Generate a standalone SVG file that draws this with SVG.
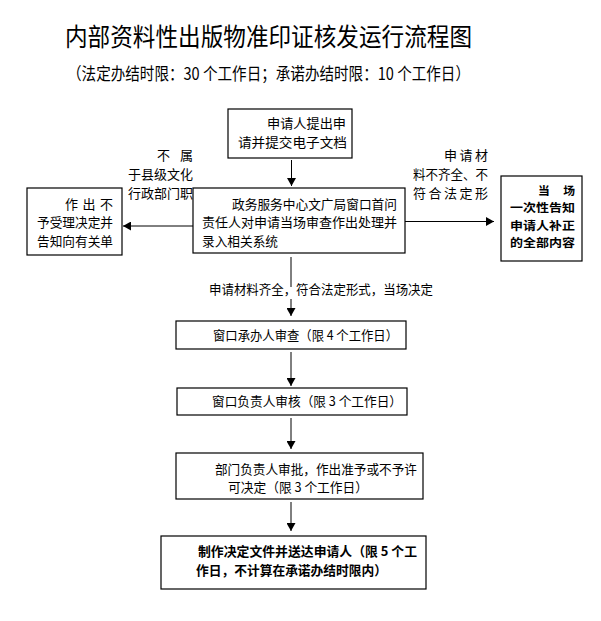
<svg xmlns="http://www.w3.org/2000/svg" width="601" height="621" viewBox="0 0 601 621">
<style>
text{font-family:"Noto Sans CJK SC","Liberation Sans",sans-serif;fill:#000;}
.t{font-size:13px;}
.b{font-size:13px;font-weight:bold;}
.bs{font-size:11.8px;font-weight:bold;}
.box{fill:#fff;stroke:#000;stroke-width:1.2;}
.ln{fill:none;stroke:#000;stroke-width:1;}
</style>
<defs>
<marker id="ah" markerUnits="userSpaceOnUse" markerWidth="9" markerHeight="9" refX="8" refY="4.5" orient="auto">
<path d="M0,0 L8,4.5 L0,9 Z" fill="#000"/>
</marker>
</defs>
<rect width="601" height="621" fill="#fff"/>
<g id="title">
<text x="65" y="46" font-size="25" textLength="407" lengthAdjust="spacingAndGlyphs">内部资料性出版物准印证核发运行流程图</text>
<text x="67" y="80" font-size="17" textLength="403" lengthAdjust="spacingAndGlyphs">（法定办结时限：30 个工作日；承诺办结时限：10 个工作日）</text>
</g>
<g id="connectors">
<line class="ln" x1="291.5" y1="160" x2="291.5" y2="186" marker-end="url(#ah)"/>
<line class="ln" x1="193" y1="226" x2="123" y2="226" marker-end="url(#ah)"/>
<line class="ln" x1="405" y1="221.5" x2="494" y2="221.5" marker-end="url(#ah)"/>
<line class="ln" x1="291" y1="257" x2="291" y2="287"/>
<line class="ln" x1="291" y1="299" x2="291" y2="316" marker-end="url(#ah)"/>
<line class="ln" x1="291" y1="352" x2="291" y2="386" marker-end="url(#ah)"/>
<line class="ln" x1="291" y1="418" x2="291" y2="449" marker-end="url(#ah)"/>
<line class="ln" x1="291" y1="502" x2="291" y2="531" marker-end="url(#ah)"/>
<g id="label-left">
<text class="t" x="157" y="160">不</text>
<text class="t" x="180" y="160">属</text>
<text class="t" x="128" y="179" textLength="65" lengthAdjust="spacingAndGlyphs">于县级文化</text>
<text class="t" x="128" y="198" textLength="65" lengthAdjust="spacingAndGlyphs">行政部门职</text>
</g>
<g id="label-right">
<text class="t" x="444" y="160" textLength="44" lengthAdjust="spacing">申请材</text>
<text class="t" x="413" y="179" textLength="75" lengthAdjust="spacingAndGlyphs">料不齐全、不</text>
<text class="t" x="413" y="198" textLength="75" lengthAdjust="spacing">符合法定形</text>
</g>
<g id="label-down">
<text class="t" x="209" y="294" textLength="224" lengthAdjust="spacingAndGlyphs">申请材料齐全，符合法定形式，当场决定</text>
</g>
</g>
<g id="n-apply">
<rect class="box" x="228" y="109" width="124" height="49"/>
<text class="t" x="267" y="128" textLength="79" lengthAdjust="spacingAndGlyphs">申请人提出申</text>
<text class="t" x="238" y="147" textLength="109" lengthAdjust="spacingAndGlyphs">请并提交电子文档</text>
</g>
<g id="n-window">
<rect class="box" x="193" y="188" width="212" height="65"/>
<text class="t" x="232" y="209" textLength="165" lengthAdjust="spacingAndGlyphs">政务服务中心文广局窗口首问</text>
<text class="t" x="202" y="227" textLength="195" lengthAdjust="spacingAndGlyphs">责任人对申请当场审查作出处理并</text>
<text class="t" x="202" y="246" textLength="76" lengthAdjust="spacingAndGlyphs">录入相关系统</text>
</g>
<g id="n-reject">
<rect class="box" x="27" y="188" width="95" height="67"/>
<text class="t" x="65" y="209" textLength="48" lengthAdjust="spacing">作出不</text>
<text class="t" x="37" y="227" textLength="76" lengthAdjust="spacingAndGlyphs">予受理决定并</text>
<text class="t" x="37" y="246" textLength="76" lengthAdjust="spacingAndGlyphs">告知向有关单</text>
</g>
<g id="n-notify">
<rect class="box" x="501" y="176" width="81" height="85"/>
<text class="bs" x="538" y="195" textLength="37" lengthAdjust="spacing">当场</text>
<text class="bs" x="510" y="212.3" textLength="65" lengthAdjust="spacingAndGlyphs">一次性告知</text>
<text class="bs" x="510" y="229.6" textLength="65" lengthAdjust="spacingAndGlyphs">申请人补正</text>
<text class="bs" x="510" y="246.9" textLength="65" lengthAdjust="spacingAndGlyphs">的全部内容</text>
</g>
<g id="n-review">
<rect class="box" x="176" y="321" width="230" height="28"/>
<text class="t" x="213" y="340" textLength="185" lengthAdjust="spacingAndGlyphs">窗口承办人审查（限 4 个工作日）</text>
</g>
<g id="n-check">
<rect class="box" x="177" y="388" width="230" height="27"/>
<text class="t" x="212" y="406" textLength="190" lengthAdjust="spacingAndGlyphs">窗口负责人审核（限 3 个工作日）</text>
</g>
<g id="n-approve">
<rect class="box" x="176" y="453" width="247" height="46"/>
<text class="t" x="215" y="474" textLength="202" lengthAdjust="spacingAndGlyphs">部门负责人审批，作出准予或不予许</text>
<text class="t" x="228" y="492" textLength="140" lengthAdjust="spacingAndGlyphs">可决定（限 3 个工作日）</text>
</g>
<g id="n-deliver">
<rect class="box" x="161" y="536" width="265" height="53"/>
<text class="b" x="198" y="556" textLength="219" lengthAdjust="spacingAndGlyphs">制作决定文件并送达申请人（限 5 个工</text>
<text class="b" x="196" y="575" textLength="191" lengthAdjust="spacingAndGlyphs">作日，不计算在承诺办结时限内）</text>
</g>
</svg>
